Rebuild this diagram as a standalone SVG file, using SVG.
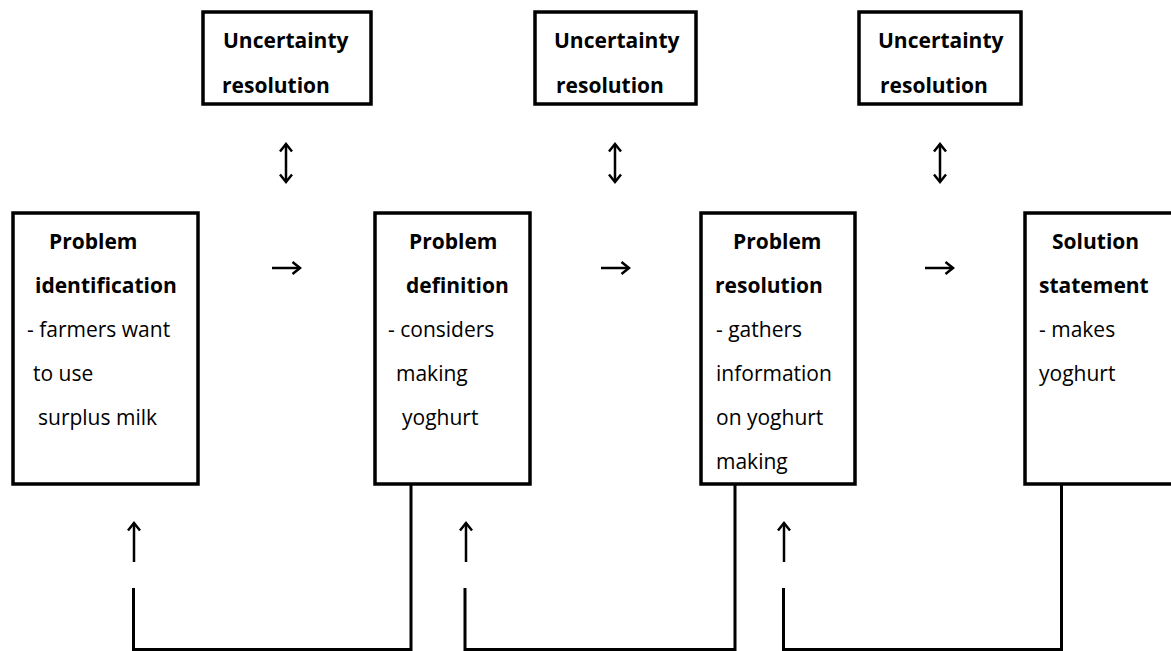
<svg xmlns="http://www.w3.org/2000/svg" width="1171" height="651" viewBox="0 0 1171 651">
<style>
  .box { fill: #fff; stroke: #000; stroke-width: 3.5; }
  .t { font-family: "Open Sans", "Liberation Sans", sans-serif; font-size: 21px; fill: #000; }
  .b { font-weight: bold; }
  .loop { fill: none; stroke: #000; stroke-width: 3; }
  .arr { fill: none; stroke: #000; stroke-width: 2.5; }
</style>
<defs>
  <marker id="head" markerUnits="userSpaceOnUse" markerWidth="20" markerHeight="20" viewBox="-12 -10 20 20" refX="0" refY="0" orient="auto-start-reverse">
    <path d="M-7.5,-6 L0,0 L-7.5,6" fill="none" stroke="#000" stroke-width="2.5"/>
  </marker>
</defs>
<rect width="1171" height="651" fill="#fff"/>

<g id="unc1">
  <rect class="box" x="203" y="12" width="168" height="92"/>
  <text class="t b" x="223" y="48">Uncertainty</text>
  <text class="t b" x="222" y="93">resolution</text>
</g>
<g id="unc2">
  <rect class="box" x="535" y="12" width="161" height="92"/>
  <text class="t b" x="554" y="48">Uncertainty</text>
  <text class="t b" x="556" y="93">resolution</text>
</g>
<g id="unc3">
  <rect class="box" x="859" y="12" width="162" height="92"/>
  <text class="t b" x="878" y="48">Uncertainty</text>
  <text class="t b" x="880" y="93">resolution</text>
</g>

<g id="identification">
  <rect class="box" x="13" y="213" width="185" height="271"/>
  <text class="t b" x="49" y="249">Problem</text>
  <text class="t b" x="35" y="293">identification</text>
  <text class="t" x="27" y="337">- farmers want</text>
  <text class="t" x="33" y="381">to use</text>
  <text class="t" x="38" y="425">surplus milk</text>
</g>
<g id="definition">
  <rect class="box" x="375" y="213" width="155" height="271"/>
  <text class="t b" x="409" y="249">Problem</text>
  <text class="t b" x="406" y="293">definition</text>
  <text class="t" x="388" y="337">- considers</text>
  <text class="t" x="396" y="381">making</text>
  <text class="t" x="402" y="425">yoghurt</text>
</g>
<g id="resolution">
  <rect class="box" x="701" y="213" width="154" height="271"/>
  <text class="t b" x="733" y="249">Problem</text>
  <text class="t b" x="715" y="293">resolution</text>
  <text class="t" x="716" y="337">- gathers</text>
  <text class="t" x="716" y="381">information</text>
  <text class="t" x="716" y="425">on yoghurt</text>
  <text class="t" x="716" y="469">making</text>
</g>
<g id="solution">
  <rect class="box" x="1025" y="213" width="160" height="271"/>
  <text class="t b" x="1052" y="249">Solution</text>
  <text class="t b" x="1039" y="293">statement</text>
  <text class="t" x="1039" y="337">- makes</text>
  <text class="t" x="1039" y="381">yoghurt</text>
</g>

<g id="connectors">
  <line class="arr" x1="286" y1="144" x2="286" y2="182" marker-start="url(#head)" marker-end="url(#head)"/>
  <line class="arr" x1="615" y1="144" x2="615" y2="182" marker-start="url(#head)" marker-end="url(#head)"/>
  <line class="arr" x1="940" y1="144" x2="940" y2="182" marker-start="url(#head)" marker-end="url(#head)"/>

  <line class="arr" x1="272" y1="268" x2="300" y2="268" marker-end="url(#head)"/>
  <line class="arr" x1="601" y1="268" x2="629" y2="268" marker-end="url(#head)"/>
  <line class="arr" x1="925" y1="268" x2="953" y2="268" marker-end="url(#head)"/>

  <polyline class="loop" points="411,484 411,649.5 133.5,649.5 133.5,588"/>
  <polyline class="loop" points="735,484 735,649.5 465,649.5 465,588"/>
  <polyline class="loop" points="1061.5,484 1061.5,649.5 783.5,649.5 783.5,588"/>

  <line class="arr" x1="134" y1="562" x2="134" y2="523" marker-end="url(#head)"/>
  <line class="arr" x1="466" y1="562" x2="466" y2="523" marker-end="url(#head)"/>
  <line class="arr" x1="784" y1="562" x2="784" y2="523" marker-end="url(#head)"/>
</g>
</svg>
